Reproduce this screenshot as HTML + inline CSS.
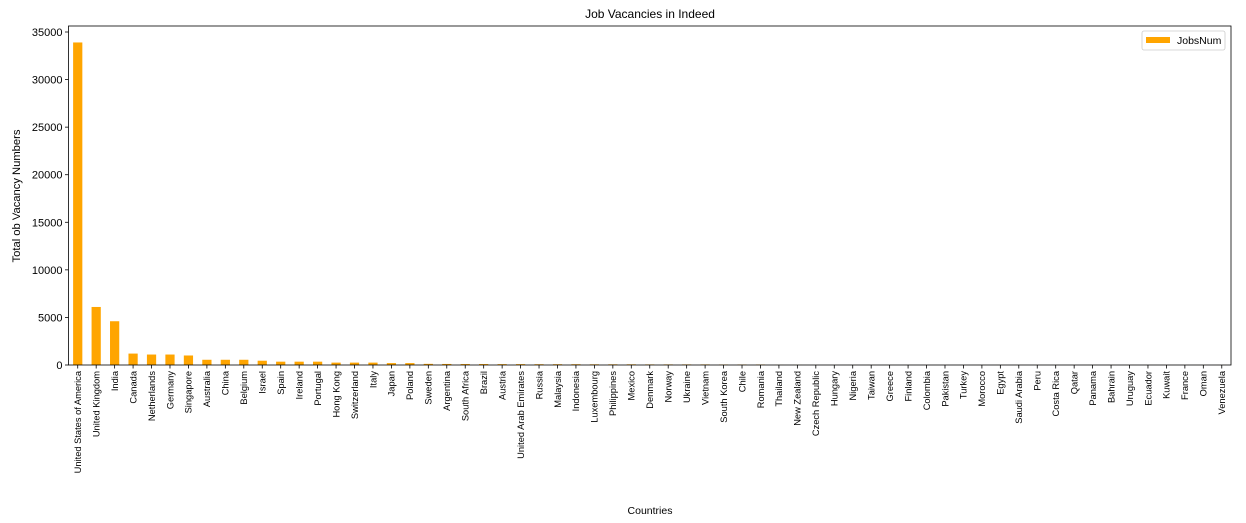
<!DOCTYPE html>
<html><head><meta charset="utf-8"><style>
html,body{margin:0;padding:0;background:#fff;}
svg{display:block;font-family:"Liberation Sans","DejaVu Sans",sans-serif;}
</style></head><body>
<svg id="chart" width="1246" height="523" viewBox="0 0 1246 523"></svg>
<script>
const categories=["United States of America","United Kingdom","India","Canada","Netherlands","Germany","Singapore","Australia","China","Belgium","Israel","Spain","Ireland","Portugal","Hong Kong","Switzerland","Italy","Japan","Poland","Sweden","Argentina","South Africa","Brazil","Austria","United Arab Emirates","Russia","Malaysia","Indonesia","Luxembourg","Philippines","Mexico","Denmark","Norway","Ukraine","Vietnam","South Korea","Chile","Romania","Thailand","New Zealand","Czech Republic","Hungary","Nigeria","Taiwan","Greece","Finland","Colombia","Pakistan","Turkey","Morocco","Egypt","Saudi Arabia","Peru","Costa Rica","Qatar","Panama","Bahrain","Uruguay","Ecuador","Kuwait","France","Oman","Venezuela"];
const jobsNum=[33900,6100,4600,1200,1100,1100,1000,550,550,550,450,350,350,350,250,250,250,200,200,120,110,100,100,90,90,80,80,80,70,70,70,60,60,60,60,50,50,50,10,10,5,5,5,5,5,5,5,5,5,5,5,5,5,5,5,5,5,5,5,5,5,5,5];
const yTicks=[0,5000,10000,15000,20000,25000,30000,35000];
const NS="http://www.w3.org/2000/svg";
const svg=document.getElementById('chart');
const L=68.5,R=1231,T=26,B=365;
function y(v){return B-v/35000*333;}
const slot=(R-L)/categories.length;
function x(i){return L+slot*(i+0.5);}
function mk(tag,attrs,text){const e=document.createElementNS(NS,tag);for(const k in attrs)e.setAttribute(k,attrs[k]);if(text!==undefined)e.textContent=text;svg.appendChild(e);return e;}
let t=mk('text',{x:650,y:18,'text-anchor':'middle','font-size':12,fill:'#000'},'Job Vacancies in Indeed');


jobsNum.forEach((v,i)=>{
  const r=mk('rect',{x:x(i)-slot*0.25,y:y(v),width:slot*0.5,height:B-y(v),fill:'#FFA500'});
  
  
});
yTicks.forEach(v=>{
  mk('line',{x1:L-3.5,x2:L,y1:y(v),y2:y(v),stroke:'#000','stroke-width':0.8});
  const tt=mk('text',{x:L-6,y:y(v)+4,'text-anchor':'end','font-size':11,fill:'#000'},String(v));
  
  
});
categories.forEach((c,i)=>{
  mk('line',{x1:x(i),x2:x(i),y1:B,y2:B+3.5,stroke:'#000','stroke-width':0.8});
  const tt=mk('text',{x:0,y:0,'text-anchor':'end','font-size':9.3,fill:'#000',transform:`translate(${x(i)+3.3},${B+6}) rotate(-90)`},c);
  
  
});
const frame=mk('rect',{x:L,y:T,width:R-L,height:B-T,fill:'none',stroke:'#000','stroke-width':0.8});


let yt=mk('text',{x:0,y:0,'text-anchor':'middle','font-size':11.2,fill:'#000',transform:'translate(20,196) rotate(-90)'},'Total ob Vacancy Numbers');


let xt=mk('text',{x:650,y:514,'text-anchor':'middle','font-size':10.5,fill:'#000'},'Countries');


let lg=mk('rect',{x:1142,y:31,width:83,height:19,fill:'#fff',stroke:'#ccc','stroke-width':0.8,rx:2});


let ls=mk('rect',{x:1146,y:37,width:24,height:6,fill:'#FFA500'});


let lt=mk('text',{x:1177,y:44,'font-size':10.5,fill:'#000'},'JobsNum');


</script>
</body></html>
